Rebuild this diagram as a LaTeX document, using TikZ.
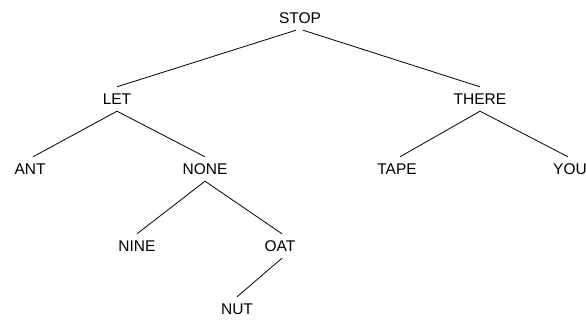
\documentclass[tikz,border=0pt]{standalone}
\usepackage{fontspec}
\setmainfont{Liberation Sans}
\begin{document}
\begin{tikzpicture}[x=1pt,y=-1pt,
  word/.style={inner sep=0pt,minimum height=24pt,font=\fontsize{15.5}{16}\selectfont,text height=11pt,text depth=0pt},
  edge/.style={draw=black,line width=0.8pt}]
\useasboundingbox (0,0) rectangle (586,321);
\node[word] (stop)  at (300,18) {STOP};
\node[word] (let)   at (117,99) {LET};
\node[word] (there) at (480,99) {THERE};
\node[word] (ant)   at (30,169) {ANT};
\node[word] (none)  at (205,169) {NONE};
\node[word] (tape)  at (397,169) {TAPE};
\node[word] (you)   at (570,169) {YOU};
\node[word] (nine)  at (137,246) {NINE};
\node[word] (oat)   at (280,246) {OAT};
\node[word] (nut)   at (237,309) {NUT};
\draw[edge] ([xshift=-4pt]stop.south) -- (let.north);
\draw[edge] ([xshift=3pt]stop.south) -- (there.north);
\draw[edge] (let.south) -- ([xshift=3pt]ant.north);
\draw[edge] (let.south) -- (none.north);
\draw[edge] (there.south) -- ([xshift=3pt]tape.north);
\draw[edge] (there.south) -- ([xshift=-2pt]you.north);
\draw[edge] (none.south) -- (nine.north);
\draw[edge] (none.south) -- ([xshift=2pt]oat.north);
\draw[edge] ([xshift=2pt]oat.south) -- (nut.north);
\end{tikzpicture}
\end{document}
